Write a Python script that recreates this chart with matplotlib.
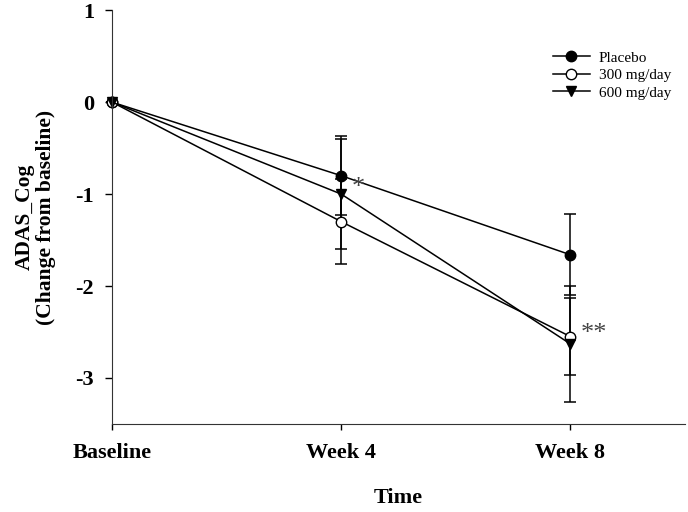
import matplotlib
matplotlib.use("Agg")
import matplotlib.pyplot as plt
from matplotlib.lines import Line2D

# data
timepoints = ["Baseline", "Week 4", "Week 8"]
placebo = [0.0, -0.80, -1.66]
placebo_err = [0.0, 0.43, 0.44]
mg300 = [0.0, -1.30, -2.55]
mg300_err = [0.0, 0.46, 0.42]
mg600 = [0.0, -1.00, -2.63]
mg600_err = [0.0, 0.60, 0.63]

plt.rcParams['font.family'] = ['Liberation Serif', 'DejaVu Serif']

fig = plt.figure(figsize=(6.88, 5.12), dpi=100)
ax = fig.add_axes([0.163, 0.172, 0.8326, 0.808])

x = list(range(len(timepoints)))
common = dict(color='black', lw=1.1, elinewidth=1.1, capsize=4.5, capthick=1.1,
              markersize=7.5, clip_on=False)
ax.errorbar(x, placebo, yerr=placebo_err, marker='o', mfc='black', **common)
ax.errorbar(x, mg300, yerr=mg300_err, marker='o', mfc='white', **common)
ax.errorbar(x, mg600, yerr=mg600_err, marker='v', mfc='black', **common)

# significance marks
ax.text(x[1] + 0.045, mg600[1] + 0.07, '*', fontsize=19, color='#444444', ha='left', va='center')
ax.text(x[2] + 0.045, mg300[2] + 0.03, '**', fontsize=19, color='#444444', ha='left', va='center')

ax.set_xlim(0, 2.5)
ax.set_ylim(-3.5, 1)
ax.set_yticks([1, 0, -1, -2, -3])
ax.set_yticklabels(['1', '0', '-1', '-2', '-3'])
ax.set_xticks(x)
ax.set_xticklabels(timepoints)
for lab in ax.get_xticklabels() + ax.get_yticklabels():
    lab.set_fontweight('bold')
    lab.set_fontsize(16)
ax.tick_params(direction='out', length=5, width=1, pad=8)
ax.tick_params(axis='x', length=4, pad=10)

ax.spines['top'].set_visible(False)
ax.spines['right'].set_visible(False)
ax.spines['left'].set_color('#333333')
ax.spines['bottom'].set_color('#333333')

ax.set_xlabel('Time', fontsize=16, fontweight='bold', labelpad=18)
ax.set_ylabel('ADAS_Cog\n(Change from baseline)', fontsize=15.5, fontweight='bold',
              labelpad=14, linespacing=1.05)

handles = [
    Line2D([], [], color='black', lw=1.1, marker='o', mfc='black', markersize=7.5),
    Line2D([], [], color='black', lw=1.1, marker='o', mfc='white', markersize=7.5),
    Line2D([], [], color='black', lw=1.1, marker='v', mfc='black', markersize=7.5),
]
ax.legend(handles, ['Placebo', '300 mg/day', '600 mg/day'], loc='upper right',
          bbox_to_anchor=(1.0, 0.935), frameon=False, fontsize=11,
          handlelength=2.4, labelspacing=0.25, handletextpad=0.6)

fig.savefig('out.png', dpi=100)
